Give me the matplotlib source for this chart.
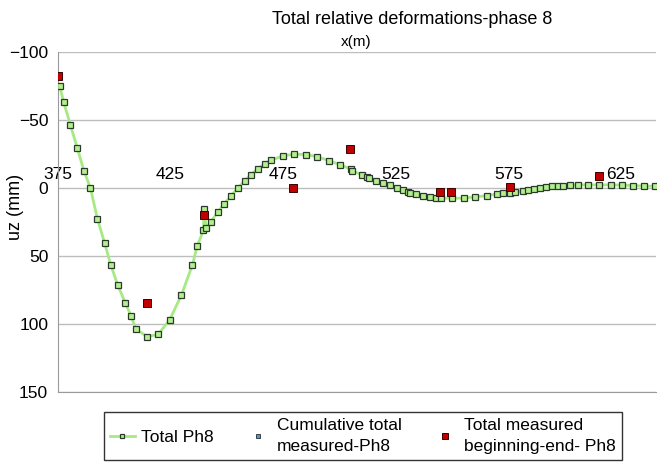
import numpy as np
import matplotlib
matplotlib.use("Agg")
import matplotlib.pyplot as plt

plt.rcParams["font.family"] = ["Liberation Sans", "DejaVu Sans"]

# Total Ph8 (computed curve)
x_total = [375.75, 377.5, 380.5, 383.6, 386.5, 389.4, 392.5, 395.7, 398.4, 401.6,
           404.9, 407.4, 409.6, 414.7, 419.6, 424.6, 429.8, 434.7, 436.8, 439.6,
           439.8, 440.9, 442.8, 445.9, 448.9, 451.8, 454.8, 457.9, 460.7, 463.8,
           466.9, 469.8, 474.9, 479.8, 485.0, 490.0, 495.2, 500.1, 505.1, 505.7,
           509.9, 512.2, 513.3, 516.1, 519.3, 522.3, 525.3, 528.2, 530.4, 531.2,
           534.1, 537.1, 540.1, 543.0, 545.1, 550.1, 555.2, 560.3, 565.5, 570.1,
           572.6, 575.6, 577.8, 581.5, 583.7, 586.4, 588.9, 591.6, 594.2, 596.8,
           599.4, 602.2, 605.8, 610.3, 615.2, 620.3, 625.3, 630.3, 635.2, 640.1]
uz_total = [-75.0, -63.0, -46.3, -29.0, -12.5, 0.2, 22.8, 40.7, 56.6, 71.8,
            84.8, 94.1, 104.1, 109.6, 107.8, 97.1, 79.1, 56.8, 43.0, 31.3,
            15.7, 30.0, 25.2, 18.1, 11.8, 6.1, 0.4, -4.9, -9.6, -14.0,
            -17.6, -20.4, -23.2, -24.6, -24.3, -22.8, -19.9, -16.9, -13.5, -12.3,
            -9.6, -7.9, -7.1, -4.9, -3.2, -1.8, 0.2, 1.7, 3.2, 3.7,
            4.9, 5.9, 6.6, 7.4, 7.8, 7.8, 7.8, 6.8, 5.9, 4.6,
            4.1, 3.9, 3.4, 2.4, 1.5, 0.7, 0.0, -0.7, -1.0, -1.2,
            -1.5, -1.8, -2.0, -2.0, -2.0, -2.0, -1.8, -1.5, -1.2, -1.0]

# Cumulative total measured-Ph8 (no visible points)
x_cum = []
uz_cum = []

# Total measured beginning-end- Ph8
x_meas = [375.0, 414.5, 439.8, 479.4, 504.7, 544.5, 549.7, 575.6, 615.1]
uz_meas = [-82.1, 84.8, 20.3, 0.0, -28.5, 3.2, 3.2, -0.7, -8.4]

x_ticks = [375, 425, 475, 525, 575, 625]
y_ticks = [-100, -50, 0, 50, 100, 150]
y_ticklabels = ["\u2212100", "\u221250", "0", "50", "100", "150"]

fig = plt.figure(figsize=(6.66, 4.73), dpi=100)
ax = fig.add_axes([0.087, 0.172, 0.898, 0.719])

ax.plot(x_total, uz_total, color="#a6ea84", lw=2, marker="s", ms=4.0,
        mfc="#b3ef8f", mec="#2b3a2b", mew=0.9, label="Total Ph8", zorder=3)
ax.plot(x_cum, uz_cum, ls="none", marker="s", ms=5, mfc="#3aa0d8", mec="#2b2b2b",
        mew=0.6, label="Cumulative total\nmeasured-Ph8")
ax.plot(x_meas, uz_meas, ls="none", marker="s", ms=5.5, mfc="#c00000", mec="#3a0000",
        mew=0.7, label="Total measured\nbeginning-end- Ph8", zorder=4)

ax.set_xlim(375, 640.5)
ax.set_ylim(150, -100)
ax.set_yticks(y_ticks)
ax.set_yticklabels(y_ticklabels)
ax.grid(axis="y", color="#bdbdbd", lw=1)
ax.set_axisbelow(True)

# x axis crosses at uz = 0, labels above the line
ax.xaxis.set_ticks_position("top")
ax.spines["top"].set_position(("data", 0))
ax.spines["top"].set_visible(False)
ax.spines["right"].set_visible(False)
ax.spines["left"].set_color("#9a9a9a")
ax.spines["bottom"].set_color("#9a9a9a")
ax.set_xticks(x_ticks)
ax.tick_params(axis="x", length=0, pad=4, labelsize=12.5)
ax.tick_params(axis="y", length=0, pad=7, labelsize=12.5)

fig.text(412 / 666, 1 - 20 / 473, "Total relative deformations-phase 8",
         ha="center", va="center", fontsize=13)
fig.text(356 / 666, 1 - 42 / 473, "x(m)", ha="center", va="center", fontsize=11)
fig.text(15 / 666, 1 - 207 / 473, "uz (mm)", rotation=90, ha="center",
         va="center", fontsize=13)

leg = fig.legend(loc="center", bbox_to_anchor=(363 / 666, 1 - 436 / 473), ncol=3,
                 fontsize=12.5, frameon=True, fancybox=False, edgecolor="black",
                 handlelength=1.4, columnspacing=1.8, borderpad=0.35,
                 handletextpad=0.4, markerscale=0.7, labelspacing=0.2)
leg.get_frame().set_linewidth(1)
for t in leg.get_texts():
    t.set_linespacing(1.45)

fig.savefig("out.png", dpi=100)
